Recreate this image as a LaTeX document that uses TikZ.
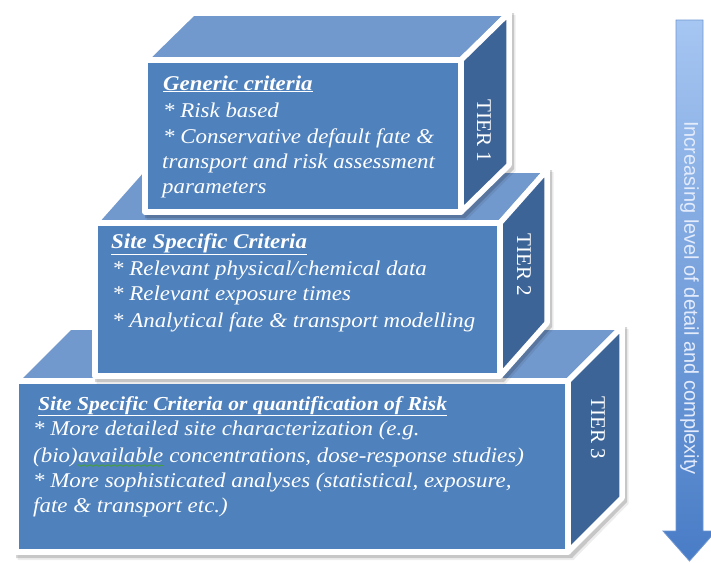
\documentclass[tikz,border=0pt]{standalone}
\usepackage{fontspec}
\setmainfont{Liberation Serif}
\setsansfont{Liberation Sans}
\newfontfamily\boxfont{Liberation Serif}[FakeStretch=1.09]
\usetikzlibrary{calc,decorations.pathmorphing}
\definecolor{frontc}{RGB}{79,129,189}
\definecolor{topc}{RGB}{114,153,205}
\definecolor{sidec}{RGB}{61,100,151}
\definecolor{arrtop}{RGB}{166,198,242}
\definecolor{arrbot}{RGB}{72,124,198}
\definecolor{arrline}{RGB}{110,150,210}
\definecolor{arrtext}{RGB}{228,236,252}
\definecolor{spellg}{RGB}{70,160,60}
% #1=L #2=T #3=R #4=B #5=dx #6=dy
\newcommand\tierbox[6]{%
  \begin{scope}[shift={(2,3)}]
    \fill[black,opacity=0.16] (#1-2,#4+3) -- (#1-2,#2-1) -- (#1+#5-1,#2-#6-3) -- (#3+#5+3,#2-#6-3) -- (#3+#5+3,#4-#6+1) -- (#3+2,#4+3) -- cycle;
  \end{scope}
  \begin{scope}[shift={(3.5,5)}]
    \fill[black,opacity=0.07] (#1-2,#4+3) -- (#1-2,#2-1) -- (#1+#5-1,#2-#6-3) -- (#3+#5+3,#2-#6-3) -- (#3+#5+3,#4-#6+1) -- (#3+2,#4+3) -- cycle;
  \end{scope}
  \filldraw[face,fill=topc] (#1,#2) -- (#1+#5,#2-#6) -- (#3+#5,#2-#6) -- (#3,#2) -- cycle;
  \filldraw[face,fill=sidec] (#3,#2) -- (#3+#5,#2-#6) -- (#3+#5,#4-#6) -- (#3,#4) -- cycle;
  \filldraw[face,fill=frontc] (#1,#2) rectangle (#3,#4);
}
\tikzset{
  face/.style={draw=white,line width=5.5pt,line join=round},
  txt/.style={anchor=base west,text=white,inner sep=0pt,font=\boxfont\fontsize{21}{24}\selectfont\itshape},
  head/.style={anchor=base west,text=white,inner sep=0pt,font=\boxfont\fontsize{21}{24}\selectfont\bfseries\itshape},
  smallhead/.style={head,font=\boxfont\fontsize{19.8}{24}\selectfont\bfseries\itshape},
  tierlabel/.style={rotate=-90,text=white,inner sep=0pt,font=\fontsize{21}{24}\selectfont},
  spellwave/.style={spellg,line width=0.7pt,decorate,decoration={snake,amplitude=0.8pt,segment length=3pt}}
}
\begin{document}
\begin{tikzpicture}[x=1pt,y=-1pt]
\useasboundingbox (0,0) rectangle (711,562);
% tier 3
\tierbox{16}{381}{568}{552}{54}{54}
\node[smallhead] (h3) at (38,410) {\underline{Site Specific Criteria or quantification of Risk}};
\node[txt] (t3a) at (33,435) {* More detailed site characterization (e.g.};
\node[txt] (t3b) at (33,462) {(bio)};
\node[txt] (t3avail) at (t3b.base east) {available};
\node[txt] (t3b2) at (t3avail.base east) {\ concentrations, dose-response studies)};
\draw[spellwave] ([yshift=-3.5pt]t3avail.base west) -- ([yshift=-3.5pt]t3avail.base east);
\node[txt] (t3c) at (33,487) {* More sophisticated analyses (statistical, exposure,};
\node[txt] (t3d) at (33,512) {fate \& transport etc.)};
\node[tierlabel] (l3) at (598,428) {TIER 3};
% tier 2
\tierbox{95}{223}{500}{376}{47}{53}
\node[head] (h2) at (111,248) {\underline{Site Specific Criteria}};
\node[txt] (t2a) at (112,275) {* Relevant physical/chemical data};
\node[txt] (t2b) at (112,300) {* Relevant exposure times};
\node[txt] (t2c) at (112,327) {* Analytical fate \& transport modelling};
\node[tierlabel] (l2) at (524,265) {TIER 2};
% tier 1
\tierbox{145}{60}{461}{212}{48}{47}
\node[head] (h1) at (163,90) {\underline{Generic criteria}};
\node[txt] (t1a) at (163,117) {* Risk based};
\node[txt] (t1b) at (163,143) {* Conservative default fate \&};
\node[txt] (t1c) at (162,168) {transport and risk assessment};
\node[txt] (t1d) at (162,193) {parameters};
\node[tierlabel] (l1) at (484,131) {TIER 1};
% arrow
\shade[top color=arrtop,bottom color=arrbot,draw=arrline,line width=0.8pt]
  (676,20) -- (703,20) -- (703,531) -- (716,531) -- (689.5,561) -- (663,531) -- (676,531) -- cycle;
\node[rotate=-90,text=arrtext,inner sep=0pt,font=\sffamily\fontsize{20}{24}\selectfont] (arrlabel) at (689.5,298) {Increasing level of detail and complexity};
\end{tikzpicture}
\end{document}
